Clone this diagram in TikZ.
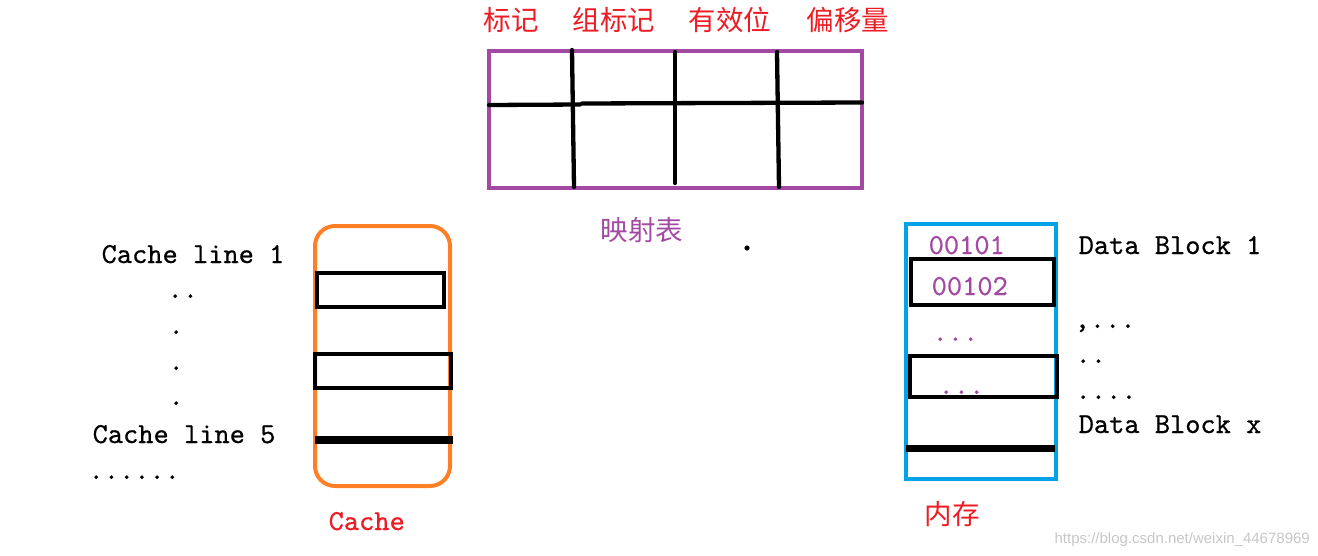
\documentclass[tikz,border=0pt]{standalone}
\usepackage{fontspec}
\newfontfamily\cjk{Noto Sans CJK SC}
\newfontfamily\wmfont{Liberation Sans}
\newfontfamily\monof[FakeBold=0.6]{lmmono10-regular.otf}
\definecolor{pred}{RGB}{237,28,36}
\definecolor{ppurple}{RGB}{163,73,164}
\definecolor{porange}{RGB}{255,127,39}
\definecolor{pblue}{RGB}{0,162,232}
\begin{document}
\begin{tikzpicture}[x=1pt,y=-1pt,
  cjklabel/.style={font=\cjk\fontsize{27.5}{30}\selectfont, inner sep=0pt},
  monotext/.style={font=\monof\fontsize{29}{31}\selectfont, inner sep=0pt, anchor=base west},
  gridline/.style={draw=black, line width=4.3pt, line cap=round},
  blockbox/.style={draw=black, line width=4pt},
  thickbar/.style={draw=black, line width=7.5pt}
]
\useasboundingbox (0,0) rectangle (1318,555);

% ---- mapping table ----
\draw[ppurple, line width=4.5pt] (489,51) rectangle (862,188);
\draw[gridline] (489,105) -- (580,104.5);
\draw[gridline] (582,103.5) -- (862,102.5);
\draw[gridline] (572,50) -- (574,187);
\draw[gridline] (675,52) -- (675,183);
\draw[gridline] (777,52) -- (779,187);

\node[cjklabel, text=pred] (tag) at (511,20) {标记};
\node[cjklabel, text=pred] (settag) at (614,20) {组标记};
\node[cjklabel, text=pred] (valid) at (730,20) {有效位};
\node[cjklabel, text=pred] (offset) at (848,20) {偏移量};
\node[cjklabel, text=ppurple] (maptab) at (642,230) {映射表};

\fill (747,248) circle (2.6pt);

% ---- cache ----
\draw[porange, line width=4pt, rounded corners=20pt] (315,226) rectangle (450,486);
\draw[blockbox] (317,273) rectangle (444,307);
\draw[blockbox] (315,354) rectangle (451,388);
\draw[thickbar] (315,440) -- (453,440);

\node[monotext] (cl1) at (101.5,263) {Cache line 1};
\node[monotext] (d1) at (167.4,298) {..};
\node[monotext] (d2) at (168.4,334) {.};
\node[monotext] (d3) at (168.4,370) {.};
\node[monotext] (d4) at (168.4,405) {.};
\node[monotext] (cl5) at (92.5,443) {Cache line 5};
\node[monotext] (d5) at (88.4,479) {......};
\node[monotext, text=pred] (cachelbl) at (328.5,530) {Cache};

% ---- memory ----
\draw[pblue, line width=4.5pt] (906,224) rectangle (1056,479);
\draw[blockbox, line width=4.5pt] (911,259) rectangle (1054,305);
\draw[blockbox, line width=4.5pt] (910,356) rectangle (1057,397);
\draw[thickbar, line width=7pt] (906,448) -- (1055,448);

\node[monotext, text=ppurple] (a1) at (928.5,254) {00101};
\node[monotext, text=ppurple] (a2) at (931.5,295) {00102};
\node[monotext, text=ppurple] (a3) at (932.4,341) {...};
\node[monotext, text=ppurple] (a4) at (938.4,394) {...};

\node[monotext] (db1) at (1078.5,254) {Data Block 1};
\node[monotext] (e1) at (1074.4,328) {,...};
\node[monotext] (e2) at (1075.4,363) {..};
\node[monotext] (e3) at (1075.4,399) {....};
\node[monotext] (dbx) at (1078.5,433) {Data Block x};
\node[cjklabel, text=pred] (mem) at (952,514) {内存};

\node[font=\wmfont\fontsize{15}{17}\selectfont, text=black!22, inner sep=0pt, anchor=base east] (wm) at (1310,543) {https://blog.csdn.net/weixin\_44678969};
\end{tikzpicture}
\end{document}
